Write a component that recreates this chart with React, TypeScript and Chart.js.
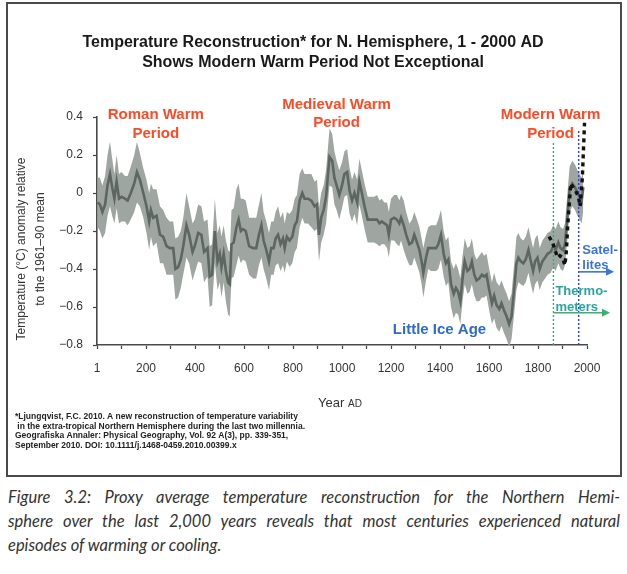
import React, { useEffect, useRef } from "react";
import { Chart, registerables } from "chart.js";

Chart.register(...registerables);

// ---- Reconstruction (Ljungqvist 2010) ----
const reconYears = [
  3, 12, 22, 33, 43, 53, 62, 71, 80, 90,
  100, 114, 125, 138, 152, 163, 175, 189,
  202, 213, 220, 229, 243, 257, 270, 284, 297,
  311, 320, 331, 342, 352, 365, 376, 390, 399,
  413, 426, 437, 451, 460, 470, 481, 492,
  501, 508, 517, 526, 535, 542, 549, 558, 569, 578, 587, 596,
  607, 621, 637, 650, 661, 671, 680, 691,
  702, 711, 721, 729, 739, 749, 759, 766, 775, 786, 797,
  807, 816, 827, 838, 847, 861, 875, 888, 898,
  906, 915, 925, 935, 949, 960, 969, 978, 989,
  1000, 1010, 1021, 1031, 1041, 1051, 1062, 1071, 1081, 1092,
  1105, 1119, 1132, 1143, 1153, 1162, 1173, 1184, 1191,
  1200, 1213, 1224, 1234, 1241, 1252, 1262, 1275, 1286, 1295,
  1306, 1316, 1325, 1332, 1343, 1352, 1363, 1374, 1384, 1393,
  1404, 1415, 1424, 1434, 1445, 1456, 1465, 1474, 1483, 1492,
  1501, 1512, 1521, 1530, 1540, 1549, 1560, 1571, 1580, 1590,
  1601, 1612, 1621, 1631, 1642, 1651, 1662, 1672, 1682, 1692,
  1703, 1712, 1720, 1730, 1740, 1750, 1761, 1771, 1780, 1788, 1798,
  1807, 1818, 1829, 1839, 1852, 1862, 1872, 1883, 1892,
  1902, 1910, 1919, 1929, 1940, 1951, 1961, 1970, 1978, 1985,
];
const reconValues = [
  -0.05, -0.06, -0.10, -0.06, 0.04, 0.10, 0.03, -0.03, 0.06, -0.03,
  -0.02, -0.03, -0.04, 0.00, 0.05, 0.11, 0.07, 0.00,
  -0.07, -0.15, -0.09, -0.13, -0.12, -0.22, -0.23, -0.28, -0.29,
  -0.29, -0.40, -0.39, -0.35, -0.28, -0.17, -0.22, -0.31, -0.28,
  -0.21, -0.22, -0.31, -0.29, -0.44, -0.43, -0.20, -0.36,
  -0.32, -0.39, -0.32, -0.41, -0.47, -0.48, -0.27, -0.26, -0.18, -0.14, -0.20, -0.19,
  -0.20, -0.28, -0.29, -0.29, -0.22, -0.17, -0.25, -0.30,
  -0.36, -0.29, -0.29, -0.24, -0.22, -0.27, -0.24, -0.29, -0.23, -0.25, -0.23,
  -0.17, -0.15, -0.04, 0.00, -0.03, -0.03, -0.04, -0.07, -0.06,
  -0.22, -0.13, -0.09, -0.02, 0.19, 0.17, 0.08, 0.04, -0.01,
  0.04, 0.10, 0.11, 0.01, -0.04, 0.00, -0.05, 0.06, 0.00, -0.07,
  -0.14, -0.14, -0.14, -0.14, -0.16, -0.15, -0.16, -0.17, -0.22,
  -0.14, -0.13, -0.14, -0.16, -0.13, -0.17, -0.22, -0.27, -0.26, -0.22,
  -0.26, -0.30, -0.36, -0.42, -0.34, -0.29, -0.29, -0.29, -0.29, -0.27,
  -0.22, -0.32, -0.37, -0.35, -0.48, -0.53, -0.50, -0.52, -0.57, -0.45,
  -0.36, -0.41, -0.40, -0.36, -0.43, -0.46, -0.45, -0.43, -0.44, -0.43,
  -0.51, -0.58, -0.54, -0.59, -0.61, -0.58, -0.62, -0.65, -0.69, -0.65,
  -0.50, -0.37, -0.34, -0.36, -0.37, -0.35, -0.30, -0.36, -0.41, -0.36, -0.34,
  -0.40, -0.36, -0.34, -0.32, -0.31, -0.28, -0.30, -0.26, -0.29,
  -0.30, -0.27, -0.14, 0.02, 0.05, 0.03, 0.00, -0.02, -0.04, 0.03,
];
// half-width of the grey uncertainty band (°C)
const reconSpread = [
  0.13, 0.14, 0.14, 0.15, 0.16, 0.17, 0.15, 0.13, 0.14, 0.13,
  0.13, 0.12, 0.13, 0.14, 0.15, 0.16, 0.14, 0.13,
  0.14, 0.15, 0.14, 0.15, 0.14, 0.15, 0.14, 0.15, 0.14,
  0.14, 0.16, 0.16, 0.15, 0.15, 0.17, 0.15, 0.15, 0.14,
  0.15, 0.15, 0.16, 0.15, 0.16, 0.16, 0.17, 0.15,
  0.15, 0.16, 0.15, 0.16, 0.17, 0.17, 0.18, 0.18, 0.20, 0.19, 0.17, 0.16,
  0.16, 0.15, 0.16, 0.16, 0.16, 0.17, 0.15, 0.15,
  0.15, 0.14, 0.14, 0.14, 0.15, 0.14, 0.14, 0.13, 0.13, 0.14, 0.14,
  0.14, 0.14, 0.14, 0.13, 0.13, 0.13, 0.14, 0.13, 0.13,
  0.14, 0.13, 0.13, 0.14, 0.15, 0.14, 0.14, 0.13, 0.13,
  0.12, 0.12, 0.12, 0.12, 0.11, 0.11, 0.12, 0.12, 0.12, 0.12,
  0.12, 0.12, 0.12, 0.13, 0.12, 0.12, 0.11, 0.12, 0.12,
  0.11, 0.12, 0.13, 0.12, 0.12, 0.13, 0.12, 0.11, 0.12, 0.12,
  0.12, 0.12, 0.12, 0.13, 0.12, 0.11, 0.12, 0.12, 0.12, 0.13,
  0.13, 0.12, 0.12, 0.12, 0.12, 0.13, 0.13, 0.12, 0.12, 0.12,
  0.12, 0.12, 0.12, 0.12, 0.11, 0.11, 0.12, 0.12, 0.11, 0.11,
  0.11, 0.11, 0.12, 0.12, 0.12, 0.12, 0.12, 0.12, 0.12, 0.12,
  0.13, 0.14, 0.13, 0.12, 0.12, 0.12, 0.12, 0.12, 0.12, 0.12, 0.12,
  0.11, 0.11, 0.11, 0.11, 0.11, 0.11, 0.11, 0.11, 0.11,
  0.11, 0.11, 0.12, 0.12, 0.12, 0.12, 0.12, 0.12, 0.12, 0.12,
];

// ---- Instrumental record (black dashed) ----
const instYears = [1845, 1859, 1870, 1879, 1889, 1900, 1910, 1916, 1921, 1927, 1934, 1943, 1954, 1965, 1972, 1976, 1981, 1985, 1990];
const instValues = [-0.23, -0.26, -0.30, -0.34, -0.33, -0.34, -0.38, -0.30, -0.18, -0.07, 0.05, 0.03, 0.01, -0.02, -0.07, 0.00, 0.08, 0.21, 0.37];

// ---- Markers ----
const thermometerStart = { year: 1863, top: 0.27 };
const satelliteStart = { year: 1966, top: 0.33 };

// ---- Axis ----
const xMin = 0, xMax = 2000, xStep = 100;
const yMin = -0.8, yMax = 0.4, yStep = 0.2;

// ---- Text ----
const titleLines = [
  "Temperature Reconstruction* for N. Hemisphere, 1 - 2000 AD",
  "Shows Modern Warm Period Not Exceptional",
];
const yTitleLines = ["Temperature (\u00B0C) anomaly relative", "to the 1961\u201390 mean"];
const footnoteLines = [
  "*Ljungqvist, F.C. 2010. A new reconstruction of temperature variability",
  " in the extra-tropical Northern Hemisphere during the last two millennia.",
  "Geografiska Annaler: Physical Geography, Vol. 92 A(3), pp. 339-351,",
  "September 2010. DOI: 10.1111/j.1468-0459.2010.00399.x",
];
const captionLines = [
  "Figure 3.2: Proxy average temperature reconstruction for the Northern Hemi-",
  "sphere over the last 2,000 years reveals that most centuries experienced natural",
  "episodes of warming or cooling.",
];

const RED = "#ff4a26";
const BLUE = "#2f6cc8";
const annotations = [
  { lines: ["Roman Warm", "Period"], year: 240, value: 0.41, color: RED, size: 15, align: "center" },
  { lines: ["Medieval Warm", "Period"], year: 978, value: 0.465, color: RED, size: 15, align: "center" },
  { lines: ["Modern Warm", "Period"], year: 1851, value: 0.41, color: RED, size: 15, align: "center" },
  { lines: ["Little Ice Age"], year: 1398, value: -0.72, color: BLUE, size: 15, align: "center" },
  { lines: ["Satel-", "lites"], year: 1981, value: -0.3, color: "#3a74d6", size: 13, align: "left" },
  { lines: ["Thermo-", "meters"], year: 1871, value: -0.52, color: "#2aa5a0", size: 13, align: "left" },
];

const SANS = "'Liberation Sans', Arimo, Helvetica, sans-serif";

const fmtY = (v: number) => {
  const r = Math.round(v * 10) / 10;
  if (r === 0) return "0";
  return r < 0 ? "\u2212" + Math.abs(r).toFixed(1) : r.toFixed(1);
};

function drawArrow(ctx: CanvasRenderingContext2D, x1: number, x2: number, y: number, color: string) {
  ctx.save();
  ctx.strokeStyle = color;
  ctx.fillStyle = color;
  ctx.lineWidth = 1.6;
  ctx.beginPath();
  ctx.moveTo(x1, y);
  ctx.lineTo(x2 - 6, y);
  ctx.stroke();
  ctx.beginPath();
  ctx.moveTo(x2, y);
  ctx.lineTo(x2 - 8, y - 4);
  ctx.lineTo(x2 - 8, y + 4);
  ctx.closePath();
  ctx.fill();
  ctx.restore();
}

const decorPlugin = {
  id: "decor",
  afterDraw(chart: any) {
    const { ctx } = chart;
    const xs = chart.scales.x;
    const ys = chart.scales.y;
    ctx.save();
    ctx.textBaseline = "middle";

    // Title
    ctx.fillStyle = "#1a1a1a";
    ctx.textAlign = "center";
    ctx.font = `bold 16px ${SANS}`;
    ctx.fillText(titleLines[0], 313, 43);
    ctx.fillText(titleLines[1], 313, 63);

    // Annotations
    for (const a of annotations) {
      ctx.fillStyle = a.color;
      ctx.font = `bold ${a.size}px ${SANS}`;
      ctx.textAlign = a.align as CanvasTextAlign;
      const px = xs.getPixelForValue(a.year);
      const py = ys.getPixelForValue(a.value);
      const lh = a.size === 15 ? 18.5 : 15.5;
      a.lines.forEach((l, i) => ctx.fillText(l, px, py + i * lh));
    }

    // Arrows
    const sx = xs.getPixelForValue(satelliteStart.year);
    drawArrow(ctx, sx, 614, ys.getPixelForValue(-0.415), "#3a74d6");
    const tx = xs.getPixelForValue(thermometerStart.year);
    drawArrow(ctx, tx, 610, ys.getPixelForValue(-0.63), "#3daf75");

    // Y axis title
    ctx.fillStyle = "#333";
    ctx.textAlign = "center";
    ctx.font = `12px ${SANS}`;
    [22, 41].forEach((x, i) => {
      ctx.save();
      ctx.translate(x, 249);
      ctx.rotate(-Math.PI / 2);
      ctx.fillText(yTitleLines[i], 0, 0);
      ctx.restore();
    });

    // X axis title "Year AD" (small caps AD)
    ctx.textAlign = "left";
    ctx.font = `13px ${SANS}`;
    const w1 = ctx.measureText("Year ").width;
    ctx.font = `10px ${SANS}`;
    const w2 = ctx.measureText("AD").width;
    const sxT = 340 - (w1 + w2) / 2;
    ctx.font = `13px ${SANS}`;
    ctx.fillText("Year ", sxT, 403);
    ctx.font = `10px ${SANS}`;
    ctx.fillText("AD", sxT + w1, 404);

    // Footnote
    ctx.fillStyle = "#222";
    ctx.font = `bold 8.5px ${SANS}`;
    footnoteLines.forEach((l, i) => ctx.fillText(l, 15, 417 + i * 9.5));

    ctx.restore();
  },
};

export default function App() {
  const ref = useRef<HTMLCanvasElement>(null);

  useEffect(() => {
    const canvas = ref.current;
    if (!canvas) return;
    const recon = reconYears.map((x, i) => ({ x, y: reconValues[i] }));
    const upper = reconYears.map((x, i) => ({ x, y: reconValues[i] + reconSpread[i] }));
    const lower = reconYears.map((x, i) => ({ x, y: reconValues[i] - reconSpread[i] }));
    const inst = instYears.map((x, i) => ({ x, y: instValues[i] }));

    const chart = new Chart(canvas, {
      type: "line",
      data: {
        datasets: [
          { label: "upper", data: upper, borderWidth: 0, borderColor: "transparent", fill: false, order: 5 },
          { label: "lower", data: lower, borderWidth: 0, borderColor: "transparent", backgroundColor: "#9fa6a1", fill: "-1", order: 4 },
          { label: "recon", data: recon, borderColor: "#5e6662", borderWidth: 2.6, fill: false, order: 3 },
          {
            label: "thermo", data: [{ x: thermometerStart.year, y: yMin }, { x: thermometerStart.year, y: thermometerStart.top }],
            borderColor: "#2fb07a", borderWidth: 1.4, borderDash: [2, 2], fill: false, order: 2,
          },
          {
            label: "sat", data: [{ x: satelliteStart.year, y: yMin }, { x: satelliteStart.year, y: satelliteStart.top }],
            borderColor: "#2f3fd0", borderWidth: 1.4, borderDash: [2, 2], fill: false, order: 1,
          },
          { label: "inst", data: inst, borderColor: "#111", borderWidth: 3.4, borderDash: [4, 4], fill: false, order: 0 },
        ],
      },
      options: {
        responsive: false,
        animation: false,
        devicePixelRatio: 1,
        elements: { point: { radius: 0, hoverRadius: 0 }, line: { tension: 0 } },
        layout: { padding: { left: 0, right: 40, top: 117, bottom: 0 } },
        plugins: { legend: { display: false }, tooltip: { enabled: false }, title: { display: false } },
        events: [],
        scales: {
          x: {
            type: "linear",
            min: xMin,
            max: xMax,
            afterFit: (s: any) => { s.height = 135; },
            grid: { drawOnChartArea: false, drawTicks: true, tickLength: 4, color: "#444", tickWidth: 1.2 },
            border: { display: true, color: "#4a4a4a", width: 1.6 },
            ticks: {
              stepSize: xStep,
              autoSkip: false,
              maxRotation: 0,
              padding: 12,
              color: "#333",
              font: { size: 12, family: SANS },
              callback: (v: any) => (v === 0 ? "1" : v % 200 === 0 ? String(v) : ""),
            },
          },
          y: {
            min: yMin,
            max: yMax,
            afterFit: (s: any) => { s.width = 97; },
            grid: { drawOnChartArea: false, drawTicks: true, tickLength: 4, color: "#444", tickWidth: 1.2 },
            border: { display: true, color: "#4a4a4a", width: 1.6 },
            ticks: {
              stepSize: yStep,
              padding: 10,
              color: "#333",
              font: { size: 12, family: SANS },
              callback: (v: any) => fmtY(Number(v)),
            },
          },
        },
      },
      plugins: [decorPlugin],
    } as any);
    return () => chart.destroy();
  }, []);

  return (
    <div style={{ position: "absolute", left: 0, top: 0, width: 627, height: 574, background: "#fff", overflow: "hidden" }}>
      <div style={{ position: "absolute", left: 6, top: 2, width: 612, height: 471, border: "2px solid #4a4a4a" }} />
      <canvas ref={ref} width={627} height={480} style={{ position: "absolute", left: 0, top: 0, width: 627, height: 480 }} />
      <div
        style={{
          position: "absolute",
          left: 8,
          top: 485,
          width: 612,
          fontFamily: "Lato, 'Open Sans', sans-serif",
          fontStyle: "italic",
          fontSize: 16.5,
          lineHeight: "24px",
          color: "#333",
        }}
      >
        {captionLines.map((l, i) => (
          <div key={i} style={{ textAlign: "justify", textAlignLast: i < captionLines.length - 1 ? "justify" : "left", whiteSpace: "nowrap" } as any}>
            {l}
          </div>
        ))}
      </div>
    </div>
  );
}
